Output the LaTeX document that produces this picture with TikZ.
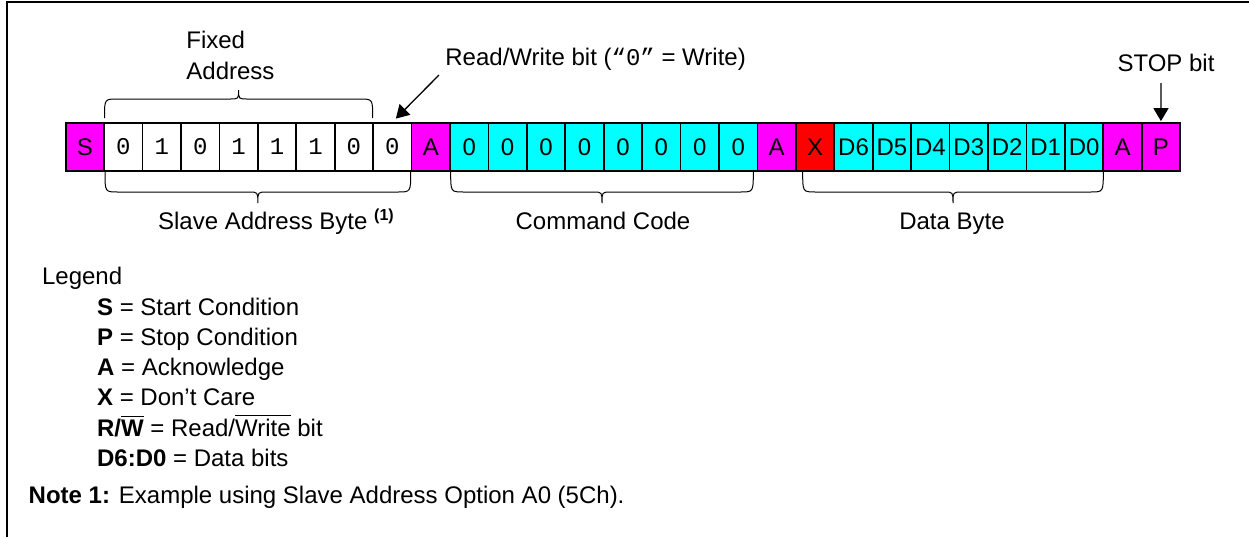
\documentclass[tikz,border=0pt]{standalone}
\usepackage{fontspec}
\setmainfont{Liberation Sans}
\newfontfamily\monof{Liberation Mono}
\usetikzlibrary{arrows.meta}
\definecolor{mgc}{RGB}{255,0,255}
\definecolor{cyc}{RGB}{0,255,255}
\definecolor{rdc}{RGB}{255,0,0}
\newcommand\drawbrace[5]{%
  \pgfmathsetmacro\bxm{(#1+#2)/2}%
  \draw[bracel] (#1,#3) .. controls (#1,#4) .. ({#1+13},#4) -- ({\bxm-9},#4)
    .. controls (\bxm,#4) .. (\bxm,#5) .. controls (\bxm,#4) .. ({\bxm+9},#4)
    -- ({#2-13},#4) .. controls (#2,#4) .. (#2,#3);}
\begin{document}
\begin{tikzpicture}[x=0.5pt,y=-0.5pt,
  every node/.style={font=\fontsize{12}{15}\selectfont, inner sep=0pt},
  cell/.style={draw, line width=0.85pt, minimum width=19.215pt, minimum height=24pt, inner sep=0pt},
  mag/.style={cell, fill=mgc},
  cy/.style={cell, fill=cyc},
  rd/.style={cell, fill=rdc},
  wm/.style={cell, fill=white, font=\monof\fontsize{12}{15}\selectfont},
  lab/.style={anchor=base west},
  bracel/.style={line width=0.5pt},
  arr/.style={line width=0.65pt, -{Triangle[length=6.5pt,width=7.5pt]}}]
\fill[white] (0,0) rectangle (1249,537);
\useasboundingbox (0,0) rectangle (1249,537);
% frame
\draw[line width=1.2pt] (7,537) -- (7,2) -- (1249,2);
% cells
\foreach \t/\f [count=\i] in {S/mag,0/wm,1/wm,0/wm,1/wm,1/wm,1/wm,0/wm,0/wm,A/mag,
  0/cy,0/cy,0/cy,0/cy,0/cy,0/cy,0/cy,0/cy,A/mag,X/rd,
  D6/cy,D5/cy,D4/cy,D3/cy,D2/cy,D1/cy,D0/cy,A/mag,P/mag}
  \node[\f] (c\i) at ({65.7+(\i-0.5)*38.43},147) {\t};
% top labels
\node[lab] (fixed) at (186,48) {Fixed};
\node[lab] (addr) at (186,79) {Address};
\node[lab] (rw) at (445,65) {Read/Write bit ({\monof “0”} = Write)};
\node[anchor=base] (stop) at (1166,71) {STOP bit};
\coordinate (rwa) at (439,75);
\coordinate (stopa) at (1161,83);
\draw[arr, shorten >=2.5pt] (rwa) -- (c9.north);
\draw[arr, shorten >=0.5pt] (stopa) -- (c29.north);
% braces
\drawbrace{104.5}{372.7}{118}{99}{90}
\drawbrace{105}{410.7}{172}{192}{203}
\drawbrace{450.7}{753.3}{172}{192}{203}
\drawbrace{802.7}{1103.3}{172}{192}{203}
\node[lab] (sab) at (157.7,229) {Slave Address Byte \textsuperscript{\bfseries (1)}};
\node[anchor=base] (cc) at (603,229) {Command Code};
\node[anchor=base] (db) at (952,229) {Data Byte};
% legend
\node[lab] (leg) at (41.7,284) {Legend};
\node[lab] (ls) at (96.7,315) {\textbf{S} = Start Condition};
\node[lab] (lp) at (96.7,345.3) {\textbf{P} = Stop Condition};
\node[lab] (la) at (96.7,375.5) {\textbf{A} = Acknowledge};
\node[lab] (lx) at (96.7,405.8) {\textbf{X} = Don’t Care};
\node[lab] (lr) at (96.7,436) {\textbf{R/$\overline{\mbox{W}}$} = Read/$\overline{\mbox{Write}}$ bit};
\node[lab] (ld) at (96.7,466.3) {\textbf{D6:D0} = Data bits};
\node[lab] (note) at (28.3,503) {\textbf{Note 1:} Example using Slave Address Option A0 (5Ch).};
\end{tikzpicture}
\end{document}
